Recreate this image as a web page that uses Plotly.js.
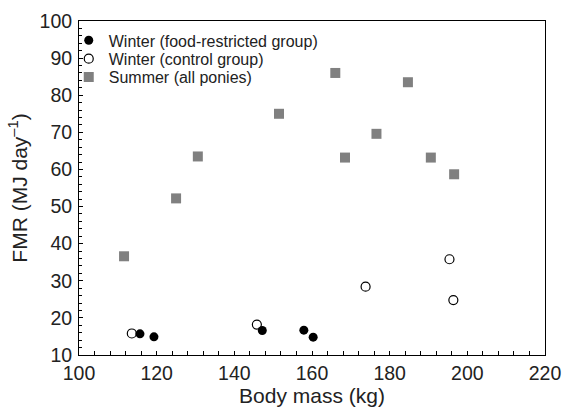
<!DOCTYPE html>
<html>
<head>
<meta charset="utf-8">
<script src="https://cdn.plot.ly/plotly-3.0.1.min.js"></script>
<style>html,body{margin:0;padding:0;background:#fff;}#chart{width:563px;height:413px;}</style>
</head>
<body>
<div id="chart"></div>
<script>
const restrictedMass = [115.7, 119.3, 147.2, 157.9, 160.3];
const restrictedFMR  = [15.7, 14.9, 16.6, 16.7, 14.8];
const controlMass = [113.6, 145.8, 173.8, 195.4, 196.4];
const controlFMR  = [15.8, 18.2, 28.4, 35.8, 24.8];
const summerMass = [111.6, 125.0, 130.6, 151.5, 166.0, 168.5, 176.6, 184.7, 190.6, 196.6];
const summerFMR  = [36.6, 52.2, 63.5, 75.0, 86.0, 63.2, 69.6, 83.5, 63.2, 58.7];
const xTickVals = [100, 120, 140, 160, 180, 200, 220];
const yTickVals = [10, 20, 30, 40, 50, 60, 70, 80, 90, 100];

const font = "'Liberation Sans', Arial, Helvetica, sans-serif";
const txt = '#222';

const traces = [
  {x: restrictedMass, y: restrictedFMR, mode: 'markers', type: 'scatter',
   name: 'Winter (food-restricted group)', legend: 'legend',
   marker: {symbol: 'circle', size: 9, color: '#000', line: {width: 0}}},
  {x: controlMass, y: controlFMR, mode: 'markers', type: 'scatter',
   name: 'Winter (control group)', legend: 'legend2',
   marker: {symbol: 'circle-open', size: 9, color: '#000', line: {width: 1.2}}},
  {x: summerMass, y: summerFMR, mode: 'markers', type: 'scatter',
   name: 'Summer (all ponies)', legend: 'legend3',
   marker: {symbol: 'square', size: 10, color: '#808080', line: {width: 0}}}
];

function leg(y) {
  return {x: -0.022, y: y, xanchor: 'left', yanchor: 'middle',
          font: {family: font, size: 16, color: txt},
          bgcolor: 'rgba(0,0,0,0)', itemwidth: 30};
}

const layout = {
  width: 563, height: 413,
  margin: {l: 79, r: 18, t: 21, b: 58},
  paper_bgcolor: '#fff', plot_bgcolor: '#fff',
  font: {family: font, color: txt, size: 19},
  showlegend: true,
  legend: leg(0.942),
  legend2: leg(0.887),
  legend3: leg(0.832),
  xaxis: {
    range: [100, 220], tickvals: xTickVals, ticktext: xTickVals.map(String),
    ticks: 'inside', ticklen: 4, tickwidth: 1, tickcolor: '#000',
    minor: {dtick: 4, tick0: 100, ticks: 'inside', ticklen: 4, tickwidth: 1, tickcolor: '#000', showgrid: false},
    showline: true, linecolor: '#000', linewidth: 1, mirror: true,
    showgrid: false, zeroline: false, ticklabelstandoff: 1,
    tickfont: {size: 19.5, color: txt},
    title: {text: 'Body mass (kg)', font: {size: 21, color: txt}, standoff: 3}
  },
  yaxis: {
    range: [10, 100], tickvals: yTickVals, ticktext: yTickVals.map(String),
    ticks: 'inside', ticklen: 4, tickwidth: 1, tickcolor: '#000',
    minor: {dtick: 2, tick0: 10, ticks: 'inside', ticklen: 3, tickwidth: 1, tickcolor: '#000', showgrid: false},
    showline: true, linecolor: '#000', linewidth: 1, mirror: true,
    showgrid: false, zeroline: false, ticklabelstandoff: 2,
    tickfont: {size: 19.5, color: txt},
    title: {text: 'FMR (MJ day<sup>–1</sup>)', font: {size: 21, color: txt}, standoff: 6}
  }
};

Plotly.newPlot('chart', traces, layout, {displayModeBar: false, staticPlot: true});
</script>
</body>
</html>
